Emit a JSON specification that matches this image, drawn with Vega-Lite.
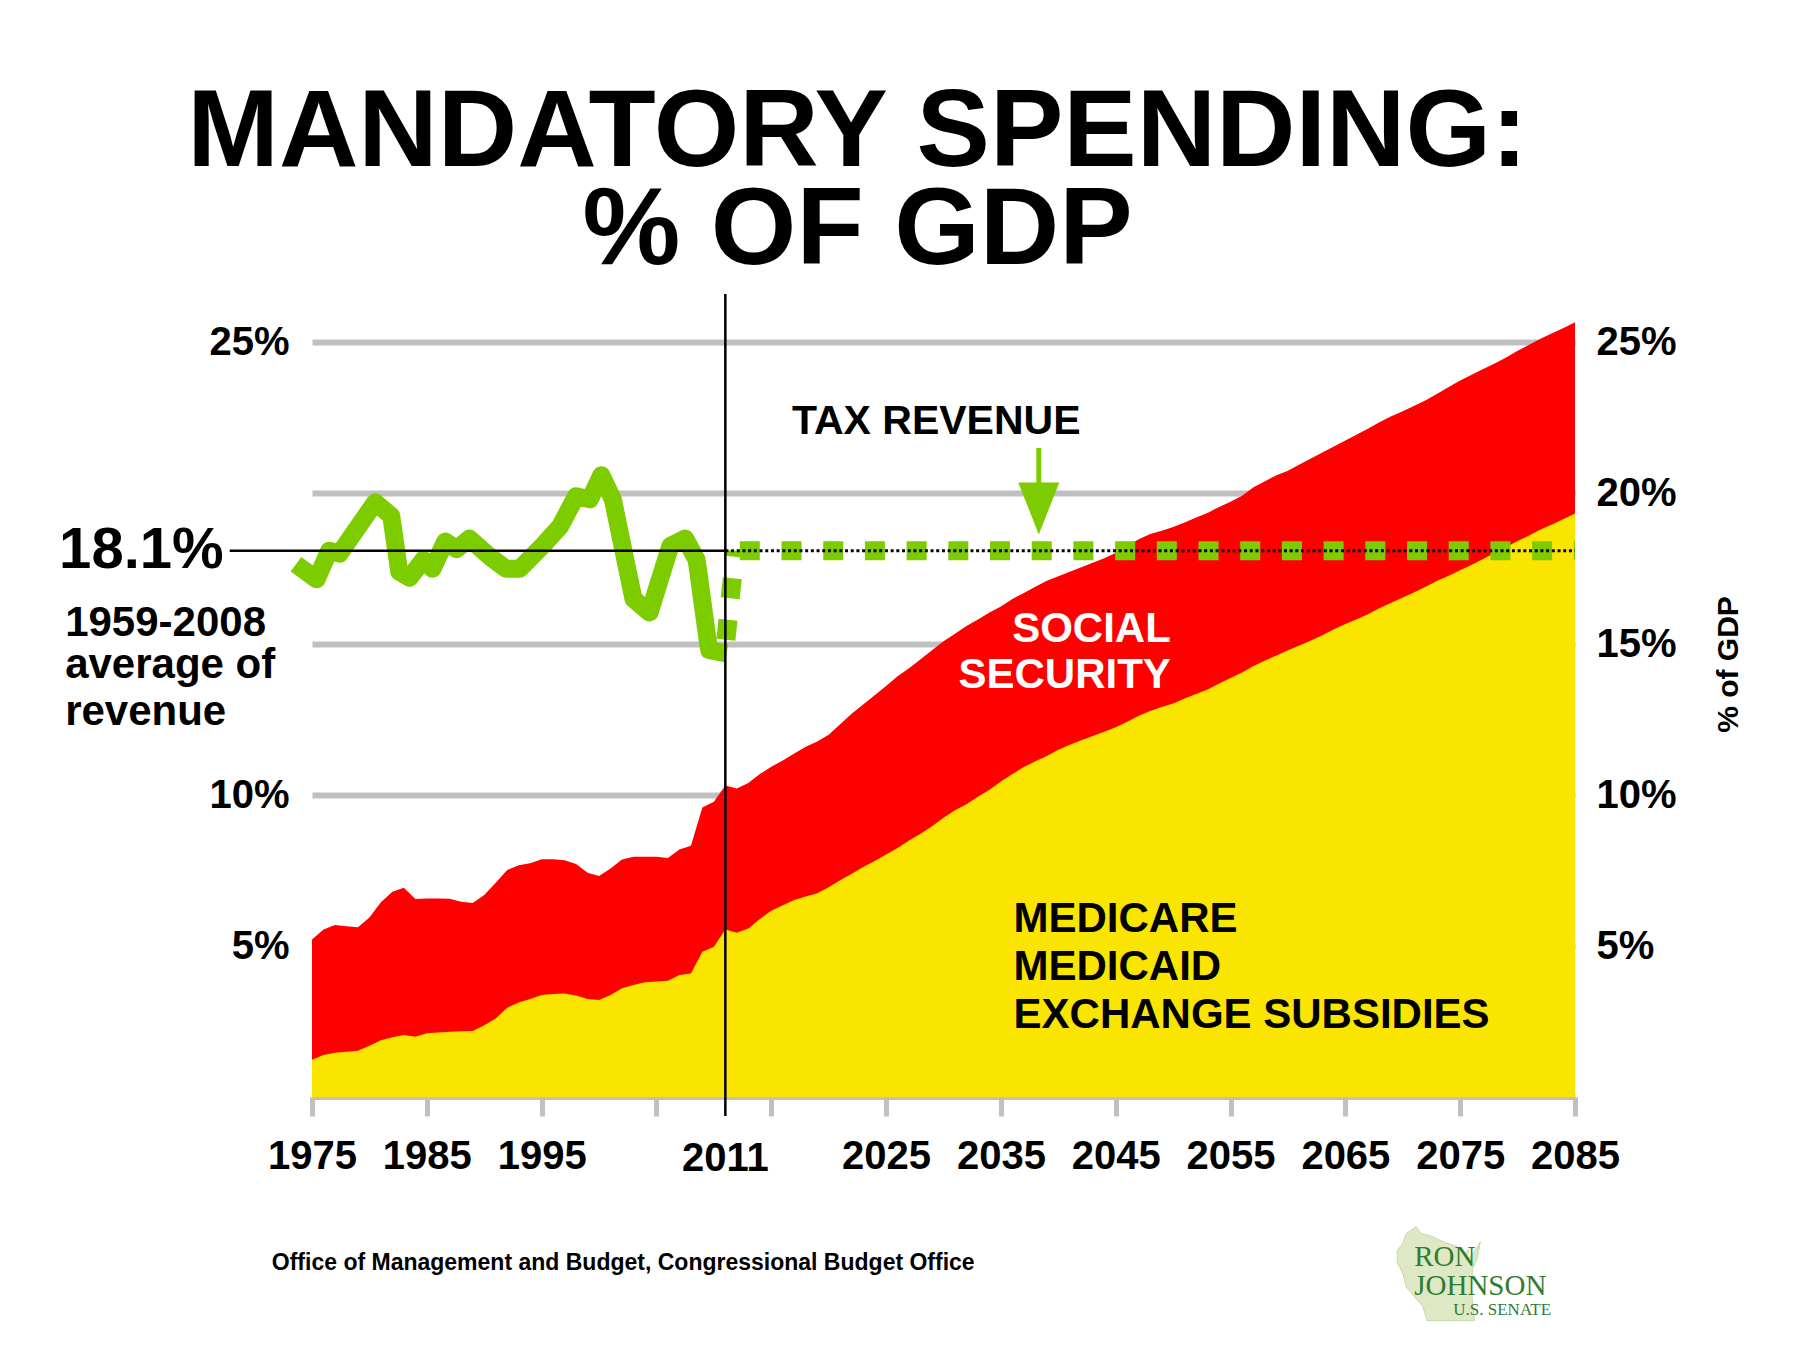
{
  "$schema": "https://vega.github.io/schema/vega-lite/v6.json",
  "width": 1263,
  "height": 815,
  "autosize": {"type": "none"},
  "padding": {"left": 312, "top": 282, "right": 225, "bottom": 253},
  "background": "white",
  "title": {
    "text": ["MANDATORY SPENDING:", "% OF GDP"],
    "font": "Liberation Sans",
    "fontWeight": "bold",
    "fontSize": 110,
    "lineHeight": 98,
    "color": "black",
    "anchor": "middle",
    "frame": "group",
    "dx": -86,
    "offset": -5
  },
  "config": {
    "view": {"stroke": null},
    "axis": {
      "labelFont": "Liberation Sans",
      "labelFontWeight": "bold",
      "labelColor": "black",
      "labelFontSize": 40
    }
  },
  "datasets": {
    "spend": [
      {"year": 1975, "health": 1.23, "total": 5.22},
      {"year": 1976, "health": 1.39, "total": 5.55},
      {"year": 1977, "health": 1.47, "total": 5.70},
      {"year": 1978, "health": 1.50, "total": 5.66},
      {"year": 1979, "health": 1.53, "total": 5.62},
      {"year": 1980, "health": 1.70, "total": 5.95},
      {"year": 1981, "health": 1.88, "total": 6.45},
      {"year": 1982, "health": 1.98, "total": 6.80},
      {"year": 1983, "health": 2.05, "total": 6.93},
      {"year": 1984, "health": 2.00, "total": 6.56},
      {"year": 1985, "health": 2.11, "total": 6.58},
      {"year": 1986, "health": 2.14, "total": 6.58},
      {"year": 1987, "health": 2.16, "total": 6.57},
      {"year": 1988, "health": 2.18, "total": 6.47},
      {"year": 1989, "health": 2.19, "total": 6.43},
      {"year": 1990, "health": 2.38, "total": 6.69},
      {"year": 1991, "health": 2.60, "total": 7.10},
      {"year": 1992, "health": 2.96, "total": 7.52},
      {"year": 1993, "health": 3.13, "total": 7.68},
      {"year": 1994, "health": 3.25, "total": 7.74},
      {"year": 1995, "health": 3.38, "total": 7.88},
      {"year": 1996, "health": 3.41, "total": 7.88},
      {"year": 1997, "health": 3.43, "total": 7.84},
      {"year": 1998, "health": 3.36, "total": 7.72},
      {"year": 1999, "health": 3.25, "total": 7.43},
      {"year": 2000, "health": 3.21, "total": 7.32},
      {"year": 2001, "health": 3.38, "total": 7.57},
      {"year": 2002, "health": 3.60, "total": 7.87},
      {"year": 2003, "health": 3.71, "total": 7.96},
      {"year": 2004, "health": 3.80, "total": 7.96},
      {"year": 2005, "health": 3.83, "total": 7.96},
      {"year": 2006, "health": 3.85, "total": 7.92},
      {"year": 2007, "health": 4.04, "total": 8.20},
      {"year": 2008, "health": 4.09, "total": 8.32},
      {"year": 2009, "health": 4.81, "total": 9.59},
      {"year": 2010, "health": 4.98, "total": 9.78},
      {"year": 2011, "health": 5.55, "total": 10.32},
      {"year": 2012, "health": 5.44, "total": 10.22},
      {"year": 2013, "health": 5.58, "total": 10.40},
      {"year": 2014, "health": 5.90, "total": 10.70},
      {"year": 2015, "health": 6.17, "total": 10.94},
      {"year": 2016, "health": 6.35, "total": 11.15},
      {"year": 2017, "health": 6.53, "total": 11.38},
      {"year": 2018, "health": 6.64, "total": 11.60},
      {"year": 2019, "health": 6.75, "total": 11.78},
      {"year": 2020, "health": 6.95, "total": 12.00},
      {"year": 2021, "health": 7.18, "total": 12.35},
      {"year": 2022, "health": 7.40, "total": 12.70},
      {"year": 2023, "health": 7.62, "total": 13.00},
      {"year": 2024, "health": 7.82, "total": 13.31},
      {"year": 2025, "health": 8.03, "total": 13.62},
      {"year": 2026, "health": 8.25, "total": 13.94},
      {"year": 2027, "health": 8.50, "total": 14.20},
      {"year": 2028, "health": 8.72, "total": 14.50},
      {"year": 2029, "health": 8.97, "total": 14.80},
      {"year": 2030, "health": 9.25, "total": 15.10},
      {"year": 2031, "health": 9.50, "total": 15.35},
      {"year": 2032, "health": 9.70, "total": 15.60},
      {"year": 2033, "health": 9.95, "total": 15.82},
      {"year": 2034, "health": 10.18, "total": 16.05},
      {"year": 2035, "health": 10.45, "total": 16.25},
      {"year": 2036, "health": 10.70, "total": 16.50},
      {"year": 2037, "health": 10.93, "total": 16.70},
      {"year": 2038, "health": 11.12, "total": 16.90},
      {"year": 2039, "health": 11.30, "total": 17.10},
      {"year": 2040, "health": 11.50, "total": 17.25},
      {"year": 2041, "health": 11.67, "total": 17.40},
      {"year": 2042, "health": 11.82, "total": 17.55},
      {"year": 2043, "health": 11.96, "total": 17.70},
      {"year": 2044, "health": 12.10, "total": 17.85},
      {"year": 2045, "health": 12.25, "total": 18.02},
      {"year": 2046, "health": 12.43, "total": 18.25},
      {"year": 2047, "health": 12.63, "total": 18.48},
      {"year": 2048, "health": 12.79, "total": 18.65},
      {"year": 2049, "health": 12.92, "total": 18.76},
      {"year": 2050, "health": 13.04, "total": 18.88},
      {"year": 2051, "health": 13.20, "total": 19.03},
      {"year": 2052, "health": 13.35, "total": 19.20},
      {"year": 2053, "health": 13.50, "total": 19.35},
      {"year": 2054, "health": 13.70, "total": 19.55},
      {"year": 2055, "health": 13.88, "total": 19.72},
      {"year": 2056, "health": 14.06, "total": 19.92},
      {"year": 2057, "health": 14.28, "total": 20.20},
      {"year": 2058, "health": 14.46, "total": 20.40},
      {"year": 2059, "health": 14.63, "total": 20.60},
      {"year": 2060, "health": 14.80, "total": 20.75},
      {"year": 2061, "health": 14.96, "total": 20.95},
      {"year": 2062, "health": 15.12, "total": 21.15},
      {"year": 2063, "health": 15.30, "total": 21.35},
      {"year": 2064, "health": 15.50, "total": 21.55},
      {"year": 2065, "health": 15.67, "total": 21.75},
      {"year": 2066, "health": 15.83, "total": 21.95},
      {"year": 2067, "health": 16.00, "total": 22.15},
      {"year": 2068, "health": 16.20, "total": 22.36},
      {"year": 2069, "health": 16.37, "total": 22.55},
      {"year": 2070, "health": 16.55, "total": 22.72},
      {"year": 2071, "health": 16.72, "total": 22.90},
      {"year": 2072, "health": 16.90, "total": 23.08},
      {"year": 2073, "health": 17.10, "total": 23.30},
      {"year": 2074, "health": 17.27, "total": 23.52},
      {"year": 2075, "health": 17.45, "total": 23.74},
      {"year": 2076, "health": 17.63, "total": 23.93},
      {"year": 2077, "health": 17.82, "total": 24.12},
      {"year": 2078, "health": 18.02, "total": 24.30},
      {"year": 2079, "health": 18.22, "total": 24.50},
      {"year": 2080, "health": 18.42, "total": 24.72},
      {"year": 2081, "health": 18.60, "total": 24.92},
      {"year": 2082, "health": 18.80, "total": 25.12},
      {"year": 2083, "health": 18.97, "total": 25.30},
      {"year": 2084, "health": 19.15, "total": 25.48},
      {"year": 2085, "health": 19.33, "total": 25.67}
    ],
    "revenue": [
      {"year": 1973.6, "value": 17.65},
      {"year": 1975.4, "value": 17.15},
      {"year": 1976.5, "value": 18.1},
      {"year": 1977.4, "value": 18.0},
      {"year": 1980.5, "value": 19.7},
      {"year": 1981.9, "value": 19.25},
      {"year": 1982.6, "value": 17.4},
      {"year": 1983.5, "value": 17.2},
      {"year": 1984.7, "value": 17.8},
      {"year": 1985.5, "value": 17.5},
      {"year": 1986.6, "value": 18.4},
      {"year": 1987.6, "value": 18.15},
      {"year": 1988.7, "value": 18.5},
      {"year": 1990.5, "value": 17.9},
      {"year": 1991.9, "value": 17.5},
      {"year": 1993.1, "value": 17.5},
      {"year": 1995.1, "value": 18.27},
      {"year": 1996.6, "value": 18.9},
      {"year": 1998.0, "value": 19.9},
      {"year": 1999.2, "value": 19.8},
      {"year": 2000.2, "value": 20.6},
      {"year": 2001.2, "value": 19.8},
      {"year": 2001.8, "value": 18.7},
      {"year": 2003.0, "value": 16.5},
      {"year": 2004.4, "value": 16.05},
      {"year": 2006.2, "value": 18.25},
      {"year": 2007.5, "value": 18.5},
      {"year": 2008.5, "value": 17.8},
      {"year": 2009.4, "value": 15.3},
      {"year": 2009.6, "value": 14.8},
      {"year": 2011.1, "value": 14.7}
    ],
    "projection": [
      {"seg": "rise", "year": 2011.05, "value": 15.15},
      {"seg": "rise", "year": 2011.85, "value": 18.1},
      {"seg": "flat", "year": 2012.26, "value": 18.1},
      {"seg": "flat", "year": 2085, "value": 18.1}
    ],
    "notes": [
      {"group": "avg", "year": 1967.3, "value": 18.1, "label": "18.1%"},
      {"group": "avgnote", "year": 1953.5, "value": 15.7, "label": "1959-2008"},
      {"group": "avgnote", "year": 1953.5, "value": 14.3, "label": "average of"},
      {"group": "avgnote", "year": 1953.5, "value": 12.75, "label": "revenue"},
      {"group": "tax", "year": 2016.8, "value": 22.35, "label": "TAX REVENUE"},
      {"group": "ss", "year": 2049.8, "value": 15.5, "label": "SOCIAL"},
      {"group": "ss", "year": 2049.8, "value": 13.97, "label": "SECURITY"},
      {"group": "health", "year": 2036.1, "value": 5.91, "label": "MEDICARE"},
      {"group": "health", "year": 2036.1, "value": 4.32, "label": "MEDICAID"},
      {"group": "health", "year": 2036.1, "value": 2.72, "label": "EXCHANGE SUBSIDIES"},
      {"group": "year2011", "year": 2011, "value": -2.05, "label": "2011"},
      {"group": "source", "year": 1971.5, "value": -5.5, "label": "Office of Management and Budget, Congressional Budget Office"},
      {"group": "logo1", "year": 2071.0, "value": -5.3, "label": "RON"},
      {"group": "logo1", "year": 2071.0, "value": -6.26, "label": "JOHNSON"},
      {"group": "logo2", "year": 2074.4, "value": -7.05, "label": "U.S. SENATE"}
    ]
  },
  "resolve": {"axis": {"y": "independent"}},
  "layer": [
    {
      "data": {"name": "spend"},
      "mark": {"type": "area", "color": "#ff0000"},
      "encoding": {
        "x": {
          "field": "year", "type": "quantitative",
          "scale": {"domain": [1975, 2085], "nice": false, "zero": false},
          "axis": {
            "orient": "bottom",
            "values": [1975, 1985, 1995, 2005, 2015, 2025, 2035, 2045, 2055, 2065, 2075, 2085],
            "format": "d",
            "labelExpr": "datum.value == 2005 || datum.value == 2015 ? '' : datum.label",
            "ticks": true,
            "tickColor": "#c0c0c0",
            "tickSize": 19,
            "tickWidth": 5,
            "domain": true,
            "domainColor": "#c0c0c0",
            "domainWidth": 5,
            "labelPadding": 20,
            "labelFlush": false,
            "labelOverlap": false,
            "grid": false,
            "title": null
          }
        },
        "y": {
          "field": "total", "type": "quantitative",
          "scale": {"domain": [0, 27], "nice": false, "zero": false},
          "axis": {
            "orient": "left",
            "values": [5, 10, 15, 20, 25],
            "labelExpr": "datum.value == 15 || datum.value == 20 ? '' : datum.value + '%'",
            "grid": true,
            "gridColor": "#c0c0c0",
            "gridWidth": 6,
            "ticks": false,
            "domain": false,
            "labelPadding": 23,
            "title": null
          }
        }
      }
    },
    {
      "data": {"name": "spend"},
      "mark": {"type": "area", "color": "#f9e500"},
      "encoding": {
        "x": {"field": "year", "type": "quantitative", "scale": {"domain": [1975, 2085], "nice": false, "zero": false}},
        "y": {
          "field": "health", "type": "quantitative",
          "scale": {"domain": [0, 27], "nice": false, "zero": false},
          "axis": {
            "orient": "right",
            "values": [5, 10, 15, 20, 25],
            "labelExpr": "datum.value + '%'",
            "grid": false,
            "ticks": false,
            "domain": false,
            "labelPadding": 21,
            "title": "% of GDP",
            "titleFont": "Liberation Sans",
            "titleFontWeight": "bold",
            "titleFontSize": 30,
            "titleColor": "black",
            "titleAngle": 270,
            "titleX": 153,
            "titleY": 382,
            "titleAlign": "center",
            "titleBaseline": "middle"
          }
        }
      }
    },
    {
      "data": {"name": "revenue"},
      "mark": {"type": "line", "color": "#7ccc00", "strokeWidth": 18, "strokeJoin": "round", "strokeCap": "butt"},
      "encoding": {
        "x": {"field": "year", "type": "quantitative", "scale": {"domain": [1975, 2085], "nice": false, "zero": false}},
        "y": {"field": "value", "type": "quantitative", "scale": {"domain": [0, 27], "nice": false, "zero": false}, "axis": null}
      }
    },
    {
      "data": {"name": "projection"},
      "mark": {"type": "line", "color": "#7ccc00", "strokeWidth": 19, "strokeDash": [20, 21.7], "strokeCap": "butt"},
      "encoding": {
        "x": {"field": "year", "type": "quantitative", "scale": {"domain": [1975, 2085], "nice": false, "zero": false}},
        "y": {"field": "value", "type": "quantitative", "scale": {"domain": [0, 27], "nice": false, "zero": false}, "axis": null},
        "detail": {"field": "seg", "type": "nominal"}
      }
    },
    {
      "data": {"values": [{"year": 2038.3, "top": 21.5, "bottom": 20.0}]},
      "mark": {"type": "rule", "color": "#7ccc00", "strokeWidth": 5},
      "encoding": {
        "x": {"field": "year", "type": "quantitative", "scale": {"domain": [1975, 2085], "nice": false, "zero": false}},
        "y": {"field": "top", "type": "quantitative", "scale": {"domain": [0, 27], "nice": false, "zero": false}, "axis": null},
        "y2": {"field": "bottom"}
      }
    },
    {
      "data": {"values": [{"year": 2038.3, "value": 19.5}]},
      "mark": {"type": "point", "shape": "M-0.79,-1L0.79,-1L0,1Z", "size": 2704, "filled": true, "color": "#7ccc00", "opacity": 1},
      "encoding": {
        "x": {"field": "year", "type": "quantitative", "scale": {"domain": [1975, 2085], "nice": false, "zero": false}},
        "y": {"field": "value", "type": "quantitative", "scale": {"domain": [0, 27], "nice": false, "zero": false}, "axis": null}
      }
    },
    {
      "data": {"values": [{"start": 1967.83, "end": 2011, "value": 18.1}]},
      "mark": {"type": "rule", "color": "black", "strokeWidth": 2.5},
      "encoding": {
        "x": {"field": "start", "type": "quantitative", "scale": {"domain": [1975, 2085], "nice": false, "zero": false}},
        "x2": {"field": "end"},
        "y": {"field": "value", "type": "quantitative", "scale": {"domain": [0, 27], "nice": false, "zero": false}, "axis": null}
      }
    },
    {
      "data": {"values": [{"start": 2011, "end": 2085, "value": 18.1}]},
      "mark": {"type": "rule", "color": "black", "strokeWidth": 3, "strokeDash": [3, 2.7]},
      "encoding": {
        "x": {"field": "start", "type": "quantitative", "scale": {"domain": [1975, 2085], "nice": false, "zero": false}},
        "x2": {"field": "end"},
        "y": {"field": "value", "type": "quantitative", "scale": {"domain": [0, 27], "nice": false, "zero": false}, "axis": null}
      }
    },
    {
      "data": {"values": [{"year": 2011, "low": -0.63, "high": 26.6}]},
      "mark": {"type": "rule", "color": "black", "strokeWidth": 2.5},
      "encoding": {
        "x": {"field": "year", "type": "quantitative", "scale": {"domain": [1975, 2085], "nice": false, "zero": false}},
        "y": {"field": "low", "type": "quantitative", "scale": {"domain": [0, 27], "nice": false, "zero": false}, "axis": null},
        "y2": {"field": "high"}
      }
    },
    {
      "data": {"values": [{"year": 2073.4, "value": -5.8}]},
      "mark": {"type": "point", "shape": "M-0.72,-0.78L-0.52,-0.92L-0.42,-0.78L-0.2,-0.72L0.05,-0.6L0.3,-0.52L0.45,-0.38L0.55,-0.45L0.5,-0.25L0.62,-0.35L0.78,-0.62L0.72,-0.3L0.62,-0.05L0.6,0.3L0.62,0.6L0.66,0.98L-0.3,0.98L-0.38,0.7L-0.55,0.5L-0.72,0.3L-0.78,0.05L-0.9,-0.2L-0.9,-0.45L-0.8,-0.55Z", "size": 9801, "filled": true, "color": "#dfe8c4", "stroke": "#c9d8a8", "strokeWidth": 1, "opacity": 1},
      "encoding": {
        "x": {"field": "year", "type": "quantitative", "scale": {"domain": [1975, 2085], "nice": false, "zero": false}},
        "y": {"field": "value", "type": "quantitative", "scale": {"domain": [0, 27], "nice": false, "zero": false}, "axis": null}
      }
    },
    {
      "data": {"name": "notes"},
      "transform": [{"filter": "datum.group == 'avg'"}],
      "mark": {"type": "text", "font": "Liberation Sans", "fontWeight": "bold", "fontSize": 58, "align": "right", "baseline": "middle", "color": "black"},
      "encoding": {
        "x": {"field": "year", "type": "quantitative", "scale": {"domain": [1975, 2085], "nice": false, "zero": false}},
        "y": {"field": "value", "type": "quantitative", "scale": {"domain": [0, 27], "nice": false, "zero": false}, "axis": null},
        "text": {"field": "label"}
      }
    },
    {
      "data": {"name": "notes"},
      "transform": [{"filter": "datum.group == 'avgnote'"}],
      "mark": {"type": "text", "font": "Liberation Sans", "fontWeight": "bold", "fontSize": 42, "align": "left", "baseline": "middle", "color": "black"},
      "encoding": {
        "x": {"field": "year", "type": "quantitative", "scale": {"domain": [1975, 2085], "nice": false, "zero": false}},
        "y": {"field": "value", "type": "quantitative", "scale": {"domain": [0, 27], "nice": false, "zero": false}, "axis": null},
        "text": {"field": "label"}
      }
    },
    {
      "data": {"name": "notes"},
      "transform": [{"filter": "datum.group == 'tax'"}],
      "mark": {"type": "text", "font": "Liberation Sans", "fontWeight": "bold", "fontSize": 41, "align": "left", "baseline": "middle", "color": "black"},
      "encoding": {
        "x": {"field": "year", "type": "quantitative", "scale": {"domain": [1975, 2085], "nice": false, "zero": false}},
        "y": {"field": "value", "type": "quantitative", "scale": {"domain": [0, 27], "nice": false, "zero": false}, "axis": null},
        "text": {"field": "label"}
      }
    },
    {
      "data": {"name": "notes"},
      "transform": [{"filter": "datum.group == 'ss'"}],
      "mark": {"type": "text", "font": "Liberation Sans", "fontWeight": "bold", "fontSize": 42, "align": "right", "baseline": "middle", "color": "white"},
      "encoding": {
        "x": {"field": "year", "type": "quantitative", "scale": {"domain": [1975, 2085], "nice": false, "zero": false}},
        "y": {"field": "value", "type": "quantitative", "scale": {"domain": [0, 27], "nice": false, "zero": false}, "axis": null},
        "text": {"field": "label"}
      }
    },
    {
      "data": {"name": "notes"},
      "transform": [{"filter": "datum.group == 'health'"}],
      "mark": {"type": "text", "font": "Liberation Sans", "fontWeight": "bold", "fontSize": 42, "align": "left", "baseline": "middle", "color": "black"},
      "encoding": {
        "x": {"field": "year", "type": "quantitative", "scale": {"domain": [1975, 2085], "nice": false, "zero": false}},
        "y": {"field": "value", "type": "quantitative", "scale": {"domain": [0, 27], "nice": false, "zero": false}, "axis": null},
        "text": {"field": "label"}
      }
    },
    {
      "data": {"name": "notes"},
      "transform": [{"filter": "datum.group == 'year2011'"}],
      "mark": {"type": "text", "font": "Liberation Sans", "fontWeight": "bold", "fontSize": 40, "align": "center", "baseline": "middle", "color": "black"},
      "encoding": {
        "x": {"field": "year", "type": "quantitative", "scale": {"domain": [1975, 2085], "nice": false, "zero": false}},
        "y": {"field": "value", "type": "quantitative", "scale": {"domain": [0, 27], "nice": false, "zero": false}, "axis": null},
        "text": {"field": "label"}
      }
    },
    {
      "data": {"name": "notes"},
      "transform": [{"filter": "datum.group == 'source'"}],
      "mark": {"type": "text", "font": "Liberation Sans", "fontWeight": "bold", "fontSize": 23, "align": "left", "baseline": "middle", "color": "black"},
      "encoding": {
        "x": {"field": "year", "type": "quantitative", "scale": {"domain": [1975, 2085], "nice": false, "zero": false}},
        "y": {"field": "value", "type": "quantitative", "scale": {"domain": [0, 27], "nice": false, "zero": false}, "axis": null},
        "text": {"field": "label"}
      }
    },
    {
      "data": {"name": "notes"},
      "transform": [{"filter": "datum.group == 'logo1'"}],
      "mark": {"type": "text", "font": "Liberation Serif", "fontSize": 29, "align": "left", "baseline": "middle", "color": "#2e7d32"},
      "encoding": {
        "x": {"field": "year", "type": "quantitative", "scale": {"domain": [1975, 2085], "nice": false, "zero": false}},
        "y": {"field": "value", "type": "quantitative", "scale": {"domain": [0, 27], "nice": false, "zero": false}, "axis": null},
        "text": {"field": "label"}
      }
    },
    {
      "data": {"name": "notes"},
      "transform": [{"filter": "datum.group == 'logo2'"}],
      "mark": {"type": "text", "font": "Liberation Serif", "fontSize": 17, "align": "left", "baseline": "middle", "color": "#2e7d32"},
      "encoding": {
        "x": {"field": "year", "type": "quantitative", "scale": {"domain": [1975, 2085], "nice": false, "zero": false}},
        "y": {"field": "value", "type": "quantitative", "scale": {"domain": [0, 27], "nice": false, "zero": false}, "axis": null},
        "text": {"field": "label"}
      }
    }
  ]
}
